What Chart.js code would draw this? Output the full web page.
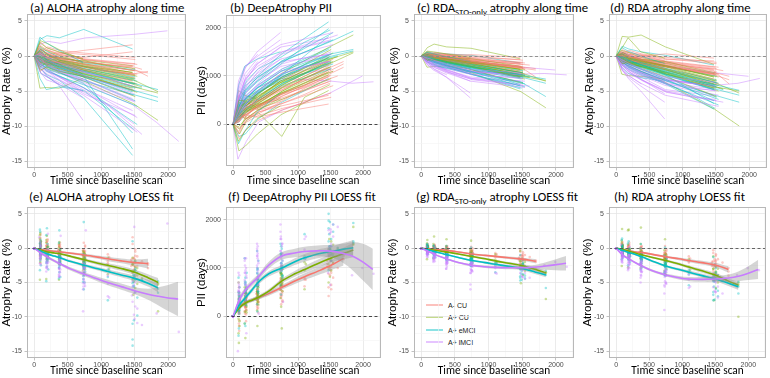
<!DOCTYPE html>
<html><head><meta charset="utf-8">
<script src="https://cdn.jsdelivr.net/npm/chart.js@4/dist/chart.umd.min.js"></script>
<style>
body{margin:0;width:770px;height:378px;position:relative;background:#fff;overflow:hidden;}
canvas{position:absolute;}
.ttl{position:absolute;font-family:Carlito,Lato,sans-serif;font-size:12.8px;color:#000;white-space:nowrap;line-height:1;}
.ttl sub{font-size:8.8px;vertical-align:-3px;line-height:0;}
.lg{position:absolute;left:426px;font-family:'Liberation Sans',Arial,sans-serif;font-size:7px;color:#1a1a1a;line-height:8px;height:8px;white-space:nowrap;}
.lg i{display:inline-block;width:17px;height:2px;vertical-align:middle;margin-right:5px;margin-top:-2px;}
</style></head><body>
<div class="ttl" style="left:30px;top:1.5px">(a) ALOHA atrophy along time</div>
<div class="ttl" style="left:230px;top:1.5px">(b) DeepAtrophy PII</div>
<div class="ttl" style="left:417px;top:1.5px">(c) RDA<sub>STO-only</sub> atrophy along time</div>
<div class="ttl" style="left:610px;top:1.5px">(d) RDA atrophy along time</div>
<div class="ttl" style="left:29px;top:190.8px">(e) ALOHA atrophy LOESS fit</div>
<div class="ttl" style="left:228px;top:190.8px">(f) DeepAtrophy PII LOESS fit</div>
<div class="ttl" style="left:416px;top:190.8px">(g) RDA<sub>STO-only</sub> atrophy LOESS fit</div>
<div class="ttl" style="left:614px;top:190.8px">(h) RDA atrophy LOESS fit</div>
<div id="legend"></div>
<script>
// ---------- data ----------
const groupNames = ['A- CU','A+ CU','A+ eMCI','A+ lMCI'];
const groupColors = ['#F8766D','#7CAE00','#00BFC4','#C77CFF'];
const xTickVals = [0,500,1000,1500,2000];
const xMinorVals = [250,750,1250,1750,2250];
const atrophyTickVals = [-15,-10,-5,0,5];
const atrophyMinorVals = [-12.5,-7.5,-2.5,2.5];
const piiTickVals = [0,1000,2000];
const piiMinorVals = [-500,500,1500];
const xLimits = [-108,2268];
const atrophyLimits = [-16,6];
const piiLimits = [-862,2262];

// visit schedules (days since baseline)
const schedules = [
 [0,90,190,375,740,1470],
 [0,95,200,385,760,1510],
 [0,85,180,370,730],
 [0,100,210,390,750,1100,1490],
 [0,90,195,380,745,1480,1850],
 [0,80,190,365,735,1460,1830,2160],
 [0,95,200,380],
 [0,88,192,378,752,1120,1500,1610],
 [0,92,185,372,735,1540],
 [0,75,205,395,770,1495,1990],
 [0,98,188,360,725,1450,1700]
];
const subjGroup = [
 0,0,0,0,0,0,0,0,0,0,0,0,0,0,0,0,
 1,1,1,1,1,1,1,1,1,1,1,1,1,1,1,1,
 2,2,2,2,2,2,2,2,2,2,2,2,2,2,2,2,
 3,3,3,3,3,3,3,3,3,3,3,3,3,3,3,3,
 0,0,0,0,0,0,0,0, 1,1,1,1,1,1,1,1, 2,2,2,2,2,2,2,2, 3,3,3,3,3,3,3,3];
const subjSched = [
 0,1,2,3,0,8,10,1,6,0,7,2,1,3,8,10,
 0,1,4,2,3,0,8,1,6,4,0,2,7,1,3,8,
 1,0,4,2,3,8,0,6,1,4,2,7,0,3,1,8,
 0,5,9,2,6,1,3,0,2,6,8,1,0,3,2,7,
 0,1,3,8,2,0,10,1, 1,0,3,8,4,2,1,0, 0,1,8,3,2,0,1,4, 1,0,2,6,3,8,1,0];

const alohaVals = [
 [0,0.8,-0.3,-0.6,-1.2,-2.4],[0,-0.5,0.6,-0.2,-0.4,-1.1],[0,1.2,0.4,-0.9,-1.8],[0,-1.0,-0.5,-1.2,-1.5,-2.2,-3.1],
 [0,0.3,0.9,0.2,-0.2,0.6],[0,-1.6,-0.8,-1.4,-2.3,-4.5],[0,0.5,-0.2,-0.3,-0.8,-1.7,-2.9],[0,2.0,1.1,0.5,0.2,-0.5],
 [0,-0.7,-1.2,-0.9],[0,0.2,-0.6,-1.1,-2.0,-3.6],[0,0.6,0.1,-0.4,-0.7,-1.3,-1.6,-1.9],[0,-0.4,0.2,0.5,-0.3],
 [0,1.1,0.3,-0.7,-1.6,-2.8],[0,0.4,-0.2,0.1,-0.5,-0.9,-1.4],[0,-2.2,-1.5,-0.8,-1.9,-2.6],[0,0.9,0.4,-0.3,-1.1,-2.0,-2.4],
 [0,-0.4,-0.9,-1.1,-2.0,-3.5],[0,0.9,0.2,-0.5,-1.3,-2.7],[0,-1.2,-1.8,-2.4,-3.6,-6.8,-9.2],[0,-4.6,-4.5,-4.6,-3.2],
 [0,0.2,-0.6,-1.0,-1.9,-2.5,-3.3],[0,2.2,1.8,0.9,-0.6,-1.4],[0,-0.9,-0.5,-1.6,-2.5,-5.2],[0,0.4,-0.3,-0.2,-0.9,-1.8],
 [0,-1.5,-0.8,-2.0],[0,0.6,-0.4,-0.9,-1.8,-3.4,-5.1],[0,-0.2,-1.3,-0.8,-1.5,-2.3],[0,1.4,0.8,0.1,-1.0],
 [0,-0.3,-0.8,-1.4,-2.2,-3.0,-4.1,-4.4],[0,-0.6,-1.1,-1.8,-3.1,-5.8],[0,1.0,0.2,-0.4,-0.7,-1.4,-2.1],[0,-0.8,-1.2,-1.5,-2.6,-4.0],
 [0,-0.8,-1.5,-2.1,-3.4,-6.4],[0,2.4,2.9,2.6,3.8,1.0],[0,-1.0,-1.9,-2.5,-3.6,-5.5,-6.5],[0,0.7,-0.4,-1.2,-2.6],
 [0,-2.5,-3.1,-4.2,-5.0,-7.6,-10.5],[0,-0.3,-0.9,-1.0,-2.0,-3.6],[0,-1.8,-2.7,-3.5,-6.0,-14.2],[0,-0.5,-1.2,-1.9],
 [0,1.2,0.6,-0.2,-1.0,-2.0],[0,-0.6,-1.4,-2.0,-3.0,-4.9,-5.9],[0,-3.2,-4.8,-4.4,-4.9],[0,-0.2,-0.8,-1.5,-2.4,-3.3,-4.4,-4.6],
 [0,0.3,-0.6,-1.2,-2.9,-13.3],[0,-1.3,-1.6,-2.2,-3.0,-4.2,-5.6],[0,0.5,-0.2,-0.9,-1.8,-3.3],[0,-0.9,-2.2,-2.8,-4.5,-9.8],
 [0,-1.0,-1.8,-2.9,-4.6,-7.8],[0,-0.4,-1.2,-2.3,-4.0,-6.9,-9.5,-12.2],[0,1.6,2.1,1.8,2.6,3.1,3.6],[0,-1.5,-2.8,-4.2,-9.2],
 [0,-0.8,-1.5,-2.6],[0,0.2,-0.9,-1.6,-2.9,-5.0],[0,-1.1,-2.0,-3.1,-4.9,-7.0,-9.7],[0,-0.3,-0.5,-1.8,-3.3,-6.1],
 [0,-2.2,-3.4,-4.0,-6.0],[0,0.6,-0.2,-0.8],[0,-1.3,-2.2,-3.0,-4.5,-8.8],[0,-0.5,-0.8,-1.4,-2.4,-4.0],
 [0,0.9,-0.4,-1.6,-3.0,-5.6],[0,-0.7,-1.4,-2.2,-3.8,-5.2,-6.5],[0,-0.2,-1.0,-2.0,-3.5],[0,-1.4,-2.6,-3.4,-5.2,-7.2,-10.3,-11.2],
 [0,-0.3,0.4,-0.2,-0.9,-1.5],[0,0.6,1.3,0.8,0.4,-0.2],[0,-0.5,-1.1,-0.7,-1.4,-1.9,-2.6],[0,1.5,0.9,0.3,-0.5,-1.2],
 [0,-1.1,-0.6,-1.3,-2.2],[0,0.1,-0.2,0.3,0.8,1.6],[0,-0.2,-0.7,-0.9,-1.6,-2.6,-2.2],[0,0.3,-0.1,-0.5,-1.2,-2.1],
 [0,-0.2,-0.7,-1.2,-2.1,-3.9],[0,0.7,0.1,-0.6,-1.1,-2.4],[0,-1.0,-1.4,-1.9,-2.8,-3.8,-4.9],[0,0.3,-0.4,-0.6,-1.4,-2.9],
 [0,-0.5,-1.0,-1.5,-2.5,-4.4,-5.3],[0,1.9,1.2,0.6,-0.4],[0,-0.1,-0.5,-0.8,-1.6,-3.2],[0,-2.0,-1.6,-2.2,-2.9,-4.6],
 [0,-0.4,-1.1,-1.7,-2.8,-5.1],[0,0.9,0.2,-0.6,-1.5,-3.0],[0,-1.5,-2.0,-2.9,-4.1,-7.2],[0,-0.1,-0.7,-1.3,-2.2,-3.1,-4.0],
 [0,2.7,1.9,0.8,-0.9],[0,-0.7,-1.6,-2.3,-3.9,-11.0],[0,-0.2,-0.9,-1.7,-2.7,-4.6],[0,0.1,-0.6,-1.4,-2.2,-3.9,-4.8],
 [0,-1.2,-2.2,-3.5,-5.5,-8.5],[0,-0.6,-1.0,-1.9,-2.8,-4.8],[0,-0.9,-2.0,-3.0,-5.1],[0,-2.4,-3.0,-4.1],
 [0,0.3,-0.6,-1.5,-2.8,-4.0,-5.4],[0,-1.7,-2.9,-3.8,-5.6,-10.9],[0,-0.4,-1.3,-2.3,-3.5,-6.5],[0,0.4,-0.3,-1.0,-2.2,-4.3]
];
const piiVals = [
 [0,150,280,350,580,980],[0,320,150,420,520,900],[0,60,220,480,720],[0,240,380,300,650,800,1150],
 [0,-150,100,250,380,600],[0,420,500,560,900,1350],[0,180,260,390,560,1020,1180],[0,-300,-100,80,300,650],
 [0,380,450,520],[0,90,300,430,700,1200],[0,120,200,330,480,760,950,1000],[0,260,110,200,460],
 [0,50,340,480,780,1260],[0,210,130,290,430,620,850],[0,600,420,480,740,1100],[0,70,190,350,610,1080,1250],
 [0,220,310,450,800,1300],[0,110,250,360,690,1150],[0,380,520,700,1050,1600,1850],[0,700,600,520,900],
 [0,-100,200,380,680,950,1180],[0,-550,-450,-200,200,700],[0,300,420,560,900,1480],[0,180,120,300,520,950],
 [0,450,380,620],[0,150,290,420,760,1250,1480],[0,260,480,330,620,1020],[0,-50,90,280,550],
 [0,210,330,500,850,1080,1350,1400],[0,320,450,640,980,1550],[0,-200,80,240,-250,560,820],[0,290,380,520,860,1300],
 [0,380,600,820,1150,1600],[0,-250,-200,100,450,950],[0,420,700,980,1300,1700,1930],[0,100,350,640,960],
 [0,600,900,1150,1400,1700,1950],[0,250,500,660,900,1250],[0,500,800,1000,1450,2120],[0,300,560,700],
 [0,50,230,480,800,1150],[0,280,520,760,1100,1450,1550],[0,800,1200,1350,1500],[0,200,420,640,980,1200,1380,1420],
 [0,180,340,600,1020,1820],[0,420,560,760,1020,1240,1450],[0,130,310,520,840,1280],[0,360,680,900,1300,1900],
 [0,520,900,1250,1600,1780],[0,250,520,760,950,900,850,880],[0,-720,-350,50,300,650,1000],[0,700,1150,1500,1900],
 [0,600,1000,1300],[0,250,560,800,1150,1500],[0,450,800,1100,1450,1600,1720],[0,150,350,650,1000,1250],
 [0,900,1200,1400,1750],[0,80,320,550],[0,380,700,1000,1350,1650],[0,260,450,650,980,1150],
 [0,300,650,900,1200,1400],[0,350,600,850,1250,1380,1450],[0,450,750,1050,1350],[0,550,950,1200,1500,1650,1800,1850],
 [0,230,180,360,540,880],[0,-80,40,180,330,560],[0,330,410,390,620,760,1000],[0,-200,60,240,420,800],
 [0,350,300,510,780],[0,100,200,150,250,420],[0,280,350,460,700,1150,1300],[0,140,230,380,640,1020],
 [0,240,330,480,820,1320],[0,90,240,400,650,1080],[0,360,470,600,880,1120,1400],[0,160,260,380,640,1100],
 [0,260,390,560,880,1350,1500],[0,-350,-150,120,380],[0,200,300,440,760,1200],[0,500,480,620,950,1380],
 [0,320,540,760,1100,1550],[0,120,290,520,850,1300],[0,480,720,960,1280,1750],[0,220,440,650,940,1180,1360],
 [0,-400,-150,250,650],[0,350,650,880,1250,1980],[0,260,480,700,1040,1450],[0,200,420,680,980,1400,1520],
 [0,500,850,1150,1500,1750],[0,280,520,800,1100,1300],[0,520,900,1250,1600],[0,850,1200,1450],
 [0,180,420,700,1050,1200,1300],[0,650,1050,1350,1650,1900],[0,320,650,950,1300,1450],[0,200,420,700,1050,1300]
];
const rdaStoVals = [
 [0,0.2,-0.1,-0.4,-0.8,-1.6],[0,-0.2,0.3,-0.1,-0.6,-1.2],[0,0.4,0.1,-0.5,-1.1],[0,-0.3,-0.2,-0.5,-1.0,-1.3,-1.9],
 [0,0.1,0.4,0.2,-0.2,-0.5],[0,-0.4,-0.3,-0.7,-1.3,-2.6],[0,0.1,-0.2,-0.3,-0.7,-1.4,-3.0],[0,0.6,0.3,0.1,-0.3,-0.9],
 [0,-0.3,-0.5,-0.6],[0,0.0,-0.3,-0.6,-1.1,-2.2],[0,0.2,0.0,-0.2,-0.5,-0.9,-1.2,-1.3],[0,-0.1,0.1,0.2,-0.4],
 [0,0.3,0.1,-0.4,-1.0,-1.8],[0,0.1,-0.1,0.0,-0.4,-0.7,-1.0],[0,-0.6,-0.4,-0.3,-0.9,-1.7],[0,0.3,0.1,-0.2,-0.8,-1.5,-1.8],
 [0,-0.2,-0.4,-0.7,-1.3,-2.6],[0,0.3,0.0,-0.4,-1.0,-2.2],[0,-0.5,-0.8,-1.3,-2.4,-5.1,-7.4],[0,-1.6,-1.5,-1.4,-1.8],
 [0,0.1,-0.3,-0.6,-1.2,-1.7,-2.4],[0,1.2,1.7,1.3,1.1,-0.4],[0,-0.3,-0.3,-0.9,-1.6,-3.3],[0,0.2,-0.1,-0.2,-0.7,-1.7],
 [0,-0.5,-0.4,-0.9],[0,0.2,-0.2,-0.6,-1.1,-2.4,-3.6],[0,-0.1,-0.6,-0.4,-0.9,-1.9],[0,0.5,0.3,-0.1,-0.6],
 [0,-0.1,-0.4,-0.8,-1.5,-2.0,-2.8,-3.0],[0,-0.3,-0.6,-1.1,-2.0,-3.9],[0,0.3,0.1,-0.2,-0.4,-0.9,-1.5],[0,-0.4,-0.6,-0.9,-1.6,-2.8],
 [0,-0.4,-0.8,-1.3,-2.2,-3.8],[0,0.6,0.4,0.3,0.1,-1.0],[0,-0.5,-1.0,-1.4,-2.2,-3.7,-5.8],[0,0.2,-0.2,-0.8,-1.6],
 [0,-0.9,-1.3,-1.8,-2.6,-3.5,-4.6],[0,-0.1,-0.4,-0.8,-1.4,-2.7],[0,-0.6,-0.9,-1.5,-2.6,-4.7],[0,-0.3,-0.7,-1.2],
 [0,0.4,0.1,-0.4,-1.0,-2.1],[0,-0.3,-0.7,-1.1,-1.8,-3.0,-3.9],[0,-0.8,-1.4,-1.7,-2.3],[0,-0.1,-0.5,-0.9,-1.6,-2.2,-2.9,-3.0],
 [0,0.0,-0.4,-0.9,-1.9,-4.1],[0,-0.5,-0.7,-1.2,-1.9,-2.6,-3.3],[0,0.1,-0.2,-0.7,-1.3,-2.4],[0,-0.4,-1.1,-1.6,-2.6,-4.4],
 [0,-0.6,-1.2,-1.9,-3.2,-3.6],[0,-0.4,-0.8,-1.4,-2.2,-2.6,-2.5,-2.7],[0,0.2,0.1,-0.3,-0.8,-1.6,-2.0],[0,-0.9,-1.8,-3.0,-6.0],
 [0,-0.7,-1.2,-2.0],[0,-0.2,-0.6,-1.1,-2.0,-2.9],[0,-0.8,-1.4,-2.1,-3.2,-3.6,-4.0],[0,-0.4,-0.7,-1.5,-2.4,-2.9],
 [0,-1.2,-2.0,-3.0,-5.3],[0,-0.2,-0.5,-0.9],[0,-0.8,-1.3,-2.0,-3.0,-3.6],[0,-0.5,-0.9,-1.4,-2.2,-2.6],
 [0,-0.2,-0.6,-1.3,-2.1,-2.8],[0,-0.6,-1.0,-1.6,-2.6,-2.9,-3.1],[0,-0.3,-0.8,-1.5,-2.5],[0,-1.0,-1.6,-2.3,-3.3,-3.7,-4.2,-4.3],
 [0,-0.1,0.2,-0.2,-0.6,-1.1],[0,0.2,0.5,0.3,0.0,-0.6],[0,-0.2,-0.4,-0.3,-0.7,-1.1,-1.6],[0,0.4,0.2,0.0,-0.4,-1.0],
 [0,-0.4,-0.2,-0.6,-1.2],[0,0.0,-0.1,0.1,0.2,-0.2],[0,-0.1,-0.3,-0.5,-1.0,-1.7,-2.0],[0,0.1,-0.1,-0.3,-0.8,-1.5],
 [0,-0.1,-0.4,-0.7,-1.3,-2.7],[0,0.2,-0.1,-0.4,-0.8,-1.9],[0,-0.4,-0.6,-0.9,-1.5,-2.2,-2.9],[0,0.1,-0.2,-0.4,-0.9,-2.0],
 [0,-0.2,-0.5,-0.8,-1.5,-2.9,-3.5],[0,0.7,0.6,0.3,-0.2],[0,0.0,-0.3,-0.5,-1.1,-2.4],[0,-0.6,-0.5,-0.9,-1.5,-3.0],
 [0,-0.2,-0.6,-1.0,-1.7,-3.1],[0,0.2,-0.1,-0.6,-1.2,-2.4],[0,-0.6,-0.9,-1.4,-2.3,-4.0],[0,-0.1,-0.4,-0.9,-1.5,-2.1,-2.7],
 [0,0.5,0.3,-0.1,-0.8],[0,-0.3,-0.8,-1.3,-2.2,-4.3],[0,-0.2,-0.5,-1.0,-1.7,-3.0],[0,0.0,-0.4,-0.9,-1.5,-2.7,-3.3],
 [0,-0.8,-1.4,-2.2,-3.4,-4.2],[0,-0.5,-0.9,-1.5,-2.3,-2.6],[0,-0.7,-1.4,-2.2,-3.6],[0,-1.3,-1.9,-2.7],
 [0,-0.3,-0.7,-1.3,-2.2,-2.5,-2.7],[0,-1.0,-1.6,-2.4,-3.6,-4.5],[0,-0.6,-1.1,-1.8,-2.7,-3.2],[0,-0.3,-0.6,-1.1,-1.9,-2.4]
];
const rdaVals = [
 [0,0.3,-0.4,-0.8,-1.4,-2.5],[0,-0.4,0.2,-0.5,-0.9,-1.8],[0,0.6,0.2,-0.9,-1.6],[0,-0.6,-0.5,-1.0,-1.6,-2.1,-2.8],
 [0,0.2,0.5,0.1,-0.5,-0.7],[0,-0.8,-0.6,-1.2,-2.0,-3.9],[0,0.1,-0.3,-0.6,-1.0,-2.0,-4.0],[0,0.9,0.5,0.2,-0.4,-1.1],
 [0,-0.5,-0.9,-1.1],[0,-0.1,-0.6,-1.1,-1.8,-3.3],[0,0.3,-0.1,-0.4,-0.9,-1.5,-1.9,-2.1],[0,-0.3,0.2,0.1,-0.7],
 [0,0.5,-0.2,-0.8,-1.5,-2.7],[0,0.2,-0.3,-0.2,-0.8,-1.2,-1.6],[0,-1.0,-0.8,-0.6,-1.5,-2.6],[0,0.4,0.0,-0.5,-1.3,-2.3,-2.9],
 [0,-0.3,-0.8,-1.1,-2.0,-4.0],[0,0.4,-0.2,-0.7,-1.5,-3.4],[0,-0.9,-1.4,-2.2,-3.8,-7.6,-10.0],[0,-2.6,-2.8,-2.9,-3.3],
 [0,0.0,-0.6,-1.0,-1.9,-2.7,-3.6],[0,2.8,2.7,3.0,1.3,-1.2],[0,-0.6,-0.5,-1.4,-2.5,-5.0],[0,0.1,-0.4,-0.5,-1.1,-2.6],
 [0,-0.9,-0.7,-1.6],[0,0.3,-0.4,-0.9,-1.8,-3.8,-5.3],[0,-0.2,-1.1,-0.8,-1.4,-3.0],[0,0.8,0.5,-0.2,-1.0],
 [0,-0.3,-0.7,-1.3,-2.3,-3.1,-4.4,-4.7],[0,-0.6,-1.0,-1.8,-3.0,-5.8],[0,0.5,-0.1,-0.5,-0.8,-1.6,-2.4],[0,-0.7,-1.1,-1.5,-2.6,-4.2],
 [0,-0.7,-1.2,-1.9,-3.1,-5.9],[0,1.4,1.0,0.6,0.1,-1.3],[0,-0.8,-1.6,-2.2,-3.5,-5.6,-6.6],[0,0.3,-0.5,-1.2,-2.4],
 [0,-1.4,-2.0,-2.8,-3.9,-5.4,-7.5],[0,-0.4,-0.8,-1.1,-2.1,-3.9],[0,-1.1,-1.7,-2.6,-4.0,-7.6],[0,-0.5,-0.9,-1.6],
 [0,0.5,0.0,-0.7,-1.5,-2.9],[0,-0.5,-1.1,-1.6,-2.8,-4.7,-5.6],[0,-1.6,-2.5,-3.1,-3.6],[0,-0.2,-0.7,-1.3,-2.4,-3.4,-4.5,-4.8],
 [0,0.0,-0.6,-1.2,-2.7,-6.8],[0,-0.9,-1.2,-1.7,-2.7,-3.8,-4.9],[0,0.2,-0.4,-1.0,-2.0,-3.8],[0,-0.8,-1.6,-2.4,-3.9,-7.0],
 [0,-1.2,-2.0,-3.0,-4.8,-5.7],[0,-0.7,-1.3,-2.2,-3.4,-4.2,-3.9,-3.2],[0,0.5,0.2,-0.6,-1.4,-2.4,-2.9],[0,-1.8,-3.2,-5.0,-9.0],
 [0,-1.2,-2.0,-3.1],[0,-0.4,-1.1,-1.9,-3.2,-4.6],[0,-1.4,-2.3,-3.4,-5.1,-5.8,-6.2],[0,-0.6,-1.2,-2.3,-3.8,-4.7],
 [0,-2.0,-3.0,-4.3,-6.6],[0,-0.3,-0.9,-1.5],[0,-1.1,-1.8,-2.8,-4.2,-5.6],[0,-0.9,-1.5,-2.4,-3.5,-3.9],
 [0,-0.5,-1.0,-2.1,-3.4,-4.3],[0,-1.0,-1.7,-2.6,-4.0,-4.6,-4.9],[0,-0.6,-1.4,-2.4,-3.7],[0,-1.6,-2.5,-3.4,-5.0,-5.6,-6.4,-6.6],
 [0,-0.3,0.1,-0.4,-1.0,-1.9],[0,0.4,0.8,0.3,-0.2,-0.9],[0,-0.4,-0.8,-0.7,-1.3,-1.9,-2.6],[0,0.7,0.3,-0.1,-0.7,-1.6],
 [0,-0.7,-0.4,-1.1,-1.8],[0,0.1,-0.2,0.0,0.3,-0.3],[0,-0.2,-0.5,-0.8,-1.5,-2.6,-3.4],[0,0.2,-0.2,-0.6,-1.2,-2.2],
 [0,-0.3,-0.7,-1.1,-2.0,-4.1],[0,0.3,-0.2,-0.7,-1.3,-3.0],[0,-0.7,-1.1,-1.5,-2.4,-3.5,-4.6],[0,0.2,-0.3,-0.6,-1.4,-3.0],
 [0,-0.4,-0.9,-1.3,-2.3,-4.4,-5.0],[0,1.1,2.6,0.6,-0.3],[0,-0.1,-0.5,-0.8,-1.6,-3.6],[0,-1.1,-0.9,-1.5,-2.5,-4.6],
 [0,-0.4,-0.9,-1.5,-2.6,-4.8],[0,0.3,-0.3,-0.9,-1.8,-3.5],[0,-1.0,-1.4,-2.2,-3.5,-6.2],[0,-0.2,-0.7,-1.2,-2.2,-3.2,-4.2],
 [0,1.2,0.7,0.0,-1.1],[0,-0.6,-1.2,-1.9,-3.3,-6.4],[0,-0.3,-0.8,-1.4,-2.6,-4.4],[0,-0.1,-0.6,-1.3,-2.3,-4.1,-4.9],
 [0,-1.4,-2.3,-3.5,-5.2,-6.4],[0,-0.8,-1.4,-2.4,-3.6,-4.2],[0,-1.3,-2.2,-3.3,-5.4],[0,-2.1,-2.9,-4.0],
 [0,-0.6,-1.2,-2.0,-3.3,-3.9,-4.3],[0,-1.8,-2.8,-3.9,-5.6,-7.2],[0,-1.0,-1.7,-2.7,-4.0,-5.0],[0,-0.6,-1.0,-1.8,-3.0,-3.7]
];

// LOESS fits (per group, evaluated at fitX, truncated at each group's last visit)
const fitX = [0,100,200,300,400,550,750,950,1100,1300,1500,1700,1850,2000,2150];
const alohaFit = [
 [0,-0.2,-0.35,-0.45,-0.55,-0.75,-1.0,-1.3,-1.55,-1.85,-2.1,-2.25],
 [0,-0.3,-0.55,-0.7,-0.85,-1.2,-1.7,-2.2,-2.5,-2.95,-3.5,-4.3,-5.0],
 [0,-0.45,-0.85,-1.15,-1.45,-1.95,-2.5,-3.0,-3.4,-3.9,-4.4,-5.1,-5.8],
 [0,-0.7,-1.3,-1.85,-2.35,-3.05,-3.8,-4.5,-5.0,-5.6,-6.2,-6.7,-7.0,-7.25,-7.4]];
const alohaSe = [
 [0,.15,.15,.15,.15,.15,.2,.25,.3,.35,.45,.7],
 [0,.15,.15,.15,.15,.18,.2,.25,.3,.35,.4,.5,.65],
 [0,.15,.15,.15,.15,.18,.2,.25,.3,.35,.4,.5,.65],
 [0,.2,.2,.2,.2,.25,.3,.35,.4,.45,.5,.8,1.3,1.9,2.5]];
const piiFit = [
 [0,200,290,340,390,470,600,730,820,930,1050,1200],
 [0,180,280,340,400,520,730,880,970,1090,1200,1300,1370],
 [0,240,400,560,720,880,1000,1130,1210,1290,1340,1390,1420],
 [0,350,560,700,830,1060,1250,1310,1340,1355,1350,1300,1240,1120,970]];
const piiSe = [
 [0,40,40,40,40,45,50,60,70,80,100,150],
 [0,40,40,40,40,45,50,60,70,80,90,120,150],
 [0,50,50,50,50,55,60,70,80,90,100,130,160],
 [0,60,60,60,60,70,80,90,100,110,130,200,300,380,430]];
const rdaStoFit = [
 [0,-0.1,-0.2,-0.25,-0.35,-0.55,-0.85,-1.05,-1.2,-1.4,-1.6,-1.9],
 [0,-0.15,-0.3,-0.45,-0.6,-0.85,-1.2,-1.55,-1.85,-2.2,-2.55,-3.1,-3.6],
 [0,-0.25,-0.5,-0.75,-1.0,-1.35,-1.8,-2.1,-2.35,-2.65,-2.95,-3.5,-3.9],
 [0,-0.45,-0.9,-1.3,-1.65,-2.1,-2.5,-2.7,-2.8,-2.85,-2.85,-2.75,-2.6,-2.4,-2.2]];
const rdaStoSe = [
 [0,.08,.08,.08,.08,.1,.1,.12,.15,.18,.22,.3],
 [0,.08,.08,.08,.08,.1,.12,.15,.18,.2,.25,.3,.35],
 [0,.08,.08,.08,.08,.1,.12,.15,.18,.2,.25,.3,.35],
 [0,.1,.1,.1,.1,.12,.15,.18,.2,.22,.25,.35,.55,.8,1.05]];
const rdaFit = [
 [0,-0.25,-0.4,-0.55,-0.65,-0.9,-1.25,-1.55,-1.8,-2.1,-2.45,-3.1],
 [0,-0.2,-0.45,-0.75,-1.0,-1.35,-1.8,-2.3,-2.75,-3.3,-3.9,-4.8,-5.4],
 [0,-0.35,-0.65,-0.95,-1.3,-1.9,-2.6,-3.1,-3.5,-4.0,-4.5,-5.1,-5.6],
 [0,-1.0,-1.6,-2.15,-2.65,-3.3,-3.9,-4.3,-4.5,-4.55,-4.5,-4.35,-4.1,-3.65,-3.1]];
const rdaSe = [
 [0,.12,.12,.12,.12,.14,.16,.2,.24,.28,.32,.45],
 [0,.12,.12,.12,.12,.14,.16,.2,.24,.28,.32,.4,.5],
 [0,.12,.12,.12,.12,.14,.16,.2,.24,.28,.32,.4,.5],
 [0,.15,.15,.15,.15,.18,.2,.25,.3,.35,.4,.5,.7,1.0,1.4]];

// ---------- drawing ----------
function rgba(hex,a){const n=parseInt(hex.slice(1),16);return `rgba(${n>>16&255},${n>>8&255},${n&255},${a})`;}

const methods = {
 aloha:{vals:alohaVals,fit:alohaFit,se:alohaSe,pii:false},
 pii:{vals:piiVals,fit:piiFit,se:piiSe,pii:true},
 rdaSto:{vals:rdaStoVals,fit:rdaStoFit,se:rdaStoSe,pii:false},
 rda:{vals:rdaVals,fit:rdaFit,se:rdaSe,pii:false}
};

const panels = [
 {cx:0,cy:0,cw:190,ch:188,L:27,R:186,T:14,B:168,m:'aloha',kind:'lines',ytp:0},
 {cx:190,cy:0,cw:195,ch:188,L:226,R:380.5,T:15,B:166,m:'pii',kind:'lines',ytp:5},
 {cx:385,cy:0,cw:193,ch:188,L:414,R:574,T:14,B:168,m:'rdaSto',kind:'lines',ytp:3},
 {cx:578,cy:0,cw:192,ch:188,L:609,R:767,T:14,B:168,m:'rda',kind:'lines',ytp:5},
 {cx:0,cy:188,cw:190,ch:190,L:27,R:186,T:207,B:358,m:'aloha',kind:'fit',ytp:0},
 {cx:190,cy:188,cw:195,ch:190,L:226,R:380.5,T:207,B:358,m:'pii',kind:'fit',ytp:4.5},
 {cx:385,cy:188,cw:193,ch:190,L:414,R:574,T:207,B:358,m:'rdaSto',kind:'fit',ytp:1},
 {cx:578,cy:188,cw:192,ch:190,L:609,R:767,T:207,B:358,m:'rda',kind:'fit',ytp:2.5}
];

const framePlugin = {
 id:'frame',
 afterDatasetsDraw(chart,args,opts){
  const {ctx,chartArea:a,scales:{y}} = chart;
  const y0 = Math.round(y.getPixelForValue(0))+0.5;
  ctx.save();
  ctx.beginPath(); ctx.rect(a.left,a.top,a.width,a.height); ctx.clip();
  ctx.beginPath(); ctx.setLineDash(opts.dash); ctx.strokeStyle=opts.zeroColor; ctx.lineWidth=opts.zeroWidth;
  ctx.moveTo(a.left,y0); ctx.lineTo(a.right,y0); ctx.stroke();
  ctx.restore();
  ctx.save(); ctx.strokeStyle='#B8B8B8'; ctx.lineWidth=1;
  ctx.strokeRect(Math.round(a.left)+0.5,Math.round(a.top)+0.5,Math.round(a.width)-1,Math.round(a.height)-1);
  ctx.restore();
 }
};

function fixTicks(major,minor){
 return function(scale){
  const all = major.concat(minor).sort((p,q)=>p-q);
  scale.ticks = all.map(v=>({value:v}));
 };
}

panels.forEach((p)=>{
 const M = methods[p.m];
 const cv = document.createElement('canvas');
 cv.width=p.cw; cv.height=p.ch;
 cv.style.left=p.cx+'px'; cv.style.top=p.cy+'px'; cv.style.width=p.cw+'px'; cv.style.height=p.ch+'px';
 document.body.appendChild(cv);
 const yLim = M.pii?piiLimits:atrophyLimits;
 const yMajor = M.pii?piiTickVals:atrophyTickVals;
 const yMinor = M.pii?piiMinorVals:atrophyMinorVals;
 const ds = [];
 if(p.kind==='lines'){
  const cnt=[0,0,0,0];
  M.vals.forEach((v,i)=>{
   const t = schedules[subjSched[i]];
   const g = subjGroup[i];
   const k = cnt[g]++;
   ds.push({data:v.map((y,j)=>({x:t[j],y})),showLine:true,borderColor:rgba(groupColors[g],0.6),borderWidth:0.8,
     pointRadius:0,fill:false,tension:0,order:-(k*4+g)});
  });
 } else {
  for(let g=0;g<4;g++){
   const pts=[];
   M.vals.forEach((v,i)=>{ if(subjGroup[i]!==g) return; const t=schedules[subjSched[i]]; v.forEach((y,j)=>pts.push({x:t[j],y})); });
   ds.push({data:pts,showLine:false,pointRadius:1.3,pointBorderWidth:0,pointBackgroundColor:rgba(groupColors[g],0.38),order:1000-g});
  }
  for(let g=0;g<4;g++){
   const f=M.fit[g], s=M.se[g];
   const hi=f.map((y,j)=>({x:fitX[j],y:y+s[j]}));
   const lo=f.map((y,j)=>({x:fitX[j],y:y-s[j]}));
   ds.push({data:hi,showLine:true,borderWidth:0,pointRadius:0,tension:0.35,fill:'+1',backgroundColor:'rgba(150,150,150,0.4)',order:500-10*g});
   ds.push({data:lo,showLine:true,borderWidth:0,pointRadius:0,tension:0.35,fill:false,order:499-10*g});
   ds.push({data:f.map((y,j)=>({x:fitX[j],y})),showLine:true,borderColor:groupColors[g],borderWidth:1.6,pointRadius:0,tension:0.35,fill:false,order:495-10*g});
  }
 }
 const isMinor = v => xMinorVals.includes(v) || yMinor.includes(v);
 const gridColor = c => (c.tick && !isMinor(c.tick.value)) ? '#E6E6E6' : '#F3F3F3';
 const tickCol = c => (c.tick && !isMinor(c.tick.value)) ? '#B3B3B3' : 'rgba(0,0,0,0)';
 new Chart(cv,{
  type:'scatter',
  data:{datasets:ds},
  options:{
   responsive:false,animation:false,devicePixelRatio:1,
   layout:{padding:{top:p.T-p.cy,right:p.cx+p.cw-p.R,left:0,bottom:0}},
   plugins:{legend:{display:false},tooltip:{enabled:false},
     frame:{dash:[3,2.5],zeroColor:M.pii?'#333333':(p.kind==='lines'?'#888888':'#555555'),zeroWidth:0.9},
     filler:{propagate:false}},
   scales:{
    x:{type:'linear',min:xLimits[0],max:xLimits[1],
      afterBuildTicks:fixTicks(xTickVals,xMinorVals),
      afterFit:s=>{s.height=p.cy+p.ch-p.B;},
      grid:{color:gridColor,lineWidth:c=>(c.tick&&xMinorVals.includes(c.tick.value))?0.6:0.8,drawTicks:true,tickLength:2.5,tickColor:tickCol,tickWidth:0.8},
      border:{display:false},
      ticks:{autoSkip:false,maxRotation:0,padding:0,color:'#4D4D4D',font:{family:"'Liberation Sans', Arial, sans-serif",size:7},
        callback:v=>xTickVals.includes(v)?String(v):''},
      title:{display:true,text:'Time since baseline scan',color:'#000',font:{family:"Carlito, Lato, sans-serif",size:11.3},padding:{top:0,bottom:0}}
    },
    y:{type:'linear',min:yLim[0],max:yLim[1],
      afterBuildTicks:fixTicks(yMajor,yMinor),
      afterFit:s=>{s.width=p.L-p.cx;},
      grid:{color:gridColor,lineWidth:c=>(c.tick&&yMinor.includes(c.tick.value))?0.6:0.8,drawTicks:true,tickLength:2.5,tickColor:tickCol,tickWidth:0.8},
      border:{display:false},
      ticks:{autoSkip:false,padding:2.5,color:'#4D4D4D',font:{family:"'Liberation Sans', Arial, sans-serif",size:7},
        callback:v=>yMajor.includes(v)?String(v):''},
      title:{display:true,text:M.pii?'PII (days)':'Atrophy Rate (%)',color:'#000',font:{family:"'Liberation Sans', Arial, sans-serif",size:11.5},padding:{top:p.ytp,bottom:0}}
    }
   }
  },
  plugins:[framePlugin]
 });
});

// legend inside panel (g)
const lg = document.getElementById('legend');
const legendRowY = [306.3,318.3,330.7,342.7];
groupNames.forEach((n,g)=>{
 const d=document.createElement('div'); d.className='lg';
 d.style.top=(legendRowY[g]-4)+'px';
 d.innerHTML=`<i style="background:${rgba(groupColors[g],0.45)}"></i>${n}`;
 lg.appendChild(d);
});
</script>
</body></html>
